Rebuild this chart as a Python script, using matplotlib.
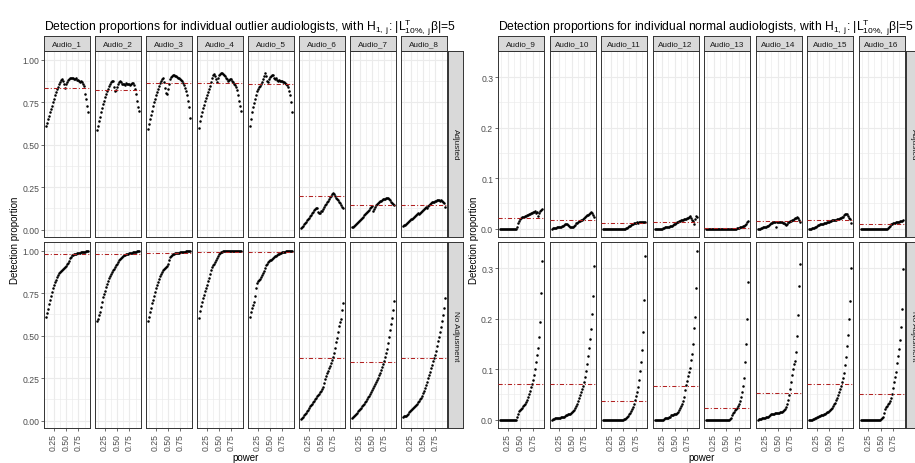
# %%
import matplotlib
matplotlib.use("Agg")
import matplotlib.pyplot as plt
from matplotlib.ticker import FixedLocator

plt.rcParams['font.family'] = ['Liberation Sans', 'DejaVu Sans']
plt.rcParams['mathtext.fontset'] = 'custom'
plt.rcParams['mathtext.rm'] = 'Liberation Sans'
plt.rcParams['mathtext.it'] = 'Liberation Sans:italic'
plt.rcParams['mathtext.bf'] = 'Liberation Sans:bold'

# power grid shared by every facet
power = [0.10, 0.12, 0.14, 0.16, 0.18, 0.20, 0.22, 0.24, 0.26, 0.28,
         0.30, 0.32, 0.34, 0.36, 0.38, 0.40, 0.42, 0.44, 0.46, 0.48,
         0.50, 0.52, 0.54, 0.56, 0.58, 0.60, 0.62, 0.64, 0.66, 0.68,
         0.70, 0.72, 0.74, 0.76, 0.78, 0.80, 0.82, 0.84, 0.86, 0.88,
         0.90, 0.92, 0.94]

outlier_names = ['Audio_1', 'Audio_2', 'Audio_3', 'Audio_4',
                 'Audio_5', 'Audio_6', 'Audio_7', 'Audio_8']
normal_names = ['Audio_9', 'Audio_10', 'Audio_11', 'Audio_12',
                'Audio_13', 'Audio_14', 'Audio_15', 'Audio_16']
row_names = ['Adjusted', 'No Adjusment']

# ---- outlier audiologists ----
a1_adj = [.610, .630, .650, .670, .690, .710, .730, .750, .770, .790,
          .810, .826, .842, .858, .870, .880, .885, .878, .860, .835,
          .855, .868, .880, .885, .890, .892, .895, .890, .885, .888,
          .890, .884, .880, .875, .870, .875, .868, .860, .845, .800,
          .770, .730, .690]
a1_no = [.608, .635, .660, .685, .710, .735, .760, .780, .800, .815,
         .830, .845, .858, .868, .875, .880, .886, .893, .899, .904,
         .912, .920, .930, .942, .955, .965, .973, .977, .980, .982,
         .983, .985, .986, .988, .989, .991, .993, .994, .995, .996,
         .997, .999, 1.000]
a2_adj = [.585, .610, .640, .665, .690, .715, .740, .760, .780, .800,
          .815, .830, .845, .858, .868, .875, .878, .840, .815, .825,
          .840, .855, .868, .876, .870, .860, .855, .860, .852, .862,
          .855, .860, .858, .852, .860, .865, .862, .850, .830, .800,
          .760, .720, .700]
a2_no = [.585, .600, .620, .640, .670, .700, .725, .748, .765, .785,
         .805, .822, .838, .852, .865, .876, .886, .895, .905, .915,
         .925, .935, .945, .953, .960, .966, .971, .975, .978, .980,
         .982, .984, .986, .988, .989, .990, .992, .993, .994, .995,
         .997, .999, 1.000]
a3_adj = [.590, .620, .650, .675, .700, .725, .750, .770, .790, .810,
          .830, .848, .862, .875, .885, .893, .870, .835, .805, .800,
          .830, .860, .885, .898, .905, .908, .910, .905, .902, .898,
          .895, .890, .888, .882, .875, .865, .850, .835, .815, .790,
          .760, .720, .660]
a3_no = [.585, .610, .640, .665, .690, .712, .735, .758, .780, .800,
         .818, .835, .850, .864, .876, .886, .893, .898, .902, .908,
         .925, .948, .962, .970, .976, .980, .983, .985, .987, .988,
         .989, .990, .991, .992, .993, .994, .995, .996, .997, .998,
         .999, .999, 1.000]
a4_adj = [.600, .640, .670, .695, .715, .735, .755, .775, .795, .812,
          .828, .845, .870, .895, .912, .915, .905, .885, .868, .895,
          .908, .915, .920, .922, .915, .910, .905, .895, .885, .878,
          .882, .886, .885, .875, .868, .860, .850, .838, .820, .795,
          .760, .730, .700]
a4_no = [.605, .645, .675, .700, .720, .742, .762, .782, .800, .820,
         .840, .862, .885, .905, .915, .925, .933, .945, .958, .970,
         .980, .988, .993, .996, .998, .999, 1.000, 1.000, 1.000, 1.000,
         1.000, 1.000, 1.000, 1.000, 1.000, 1.000, 1.000, 1.000, 1.000, 1.000,
         1.000, 1.000, 1.000]
a5_adj = [.610, .650, .690, .722, .748, .768, .795, .818, .828, .838,
          .846, .858, .872, .886, .905, .922, .905, .875, .868, .885,
          .896, .905, .912, .910, .895, .888, .890, .882, .878, .880,
          .876, .878, .876, .872, .870, .866, .860, .850, .840, .815,
          .795, .750, .690]
a5_no = [.610, .640, .662, .678, .700, .735, .780, .812, .820, .828,
         .835, .846, .858, .870, .882, .900, .915, .925, .932, .938,
         .943, .948, .954, .960, .964, .968, .972, .975, .979, .984,
         .988, .990, .992, .994, .995, .996, .997, .998, .999, 1.000,
         1.000, 1.000, 1.000]
a6_adj = [.008, .015, .022, .030, .038, .046, .054, .062, .070, .078,
          .086, .095, .104, .113, .120, .126, .128, .105, .098, .100,
          .108, .112, .122, .132, .142, .150, .160, .170, .180, .190,
          .200, .208, .215, .210, .195, .188, .180, .172, .165, .155,
          .145, .135, .125]
a6_no = [.008, .015, .022, .030, .038, .047, .056, .065, .074, .083,
         .092, .100, .108, .117, .126, .134, .142, .150, .158, .166,
         .175, .185, .200, .220, .245, .262, .278, .292, .308, .322,
         .338, .355, .375, .400, .430, .460, .488, .520, .555, .578,
         .600, .650, .695]
a7_adj = [.012, .016, .020, .025, .030, .036, .042, .048, .055, .062,
          .068, .075, .083, .090, .098, .105, .112, .118, .125, .132,
          .138, .112, .120, .135, .145, .152, .158, .162, .166, .170,
          .174, .178, .180, .182, .184, .186, .184, .178, .172, .165,
          .158, .150, .143]
a7_no = [.016, .022, .028, .034, .040, .047, .054, .061, .068, .076,
         .084, .092, .100, .108, .117, .126, .136, .146, .157, .168,
         .180, .192, .204, .216, .228, .240, .253, .268, .283, .298,
         .315, .333, .352, .372, .395, .420, .455, .495, .535, .570,
         .605, .650, .705]
a8_adj = [.022, .024, .026, .030, .036, .042, .048, .054, .060, .064,
          .068, .074, .080, .086, .092, .098, .094, .100, .106, .112,
          .116, .120, .126, .130, .128, .136, .144, .150, .156, .160,
          .162, .164, .166, .170, .172, .174, .172, .170, .172, .168,
          .164, .155, .130]
a8_no = [.022, .024, .026, .028, .032, .040, .048, .055, .060, .066,
         .072, .079, .086, .093, .100, .108, .116, .124, .134, .146,
         .160, .175, .192, .210, .228, .248, .268, .288, .308, .328,
         .348, .368, .388, .410, .438, .466, .494, .522, .550, .585,
         .620, .665, .720]

# ---- normal audiologists ----
a9_adj = [0, 0, 0, 0, 0, 0, 0, 0, 0, 0,
          0, 0, 0, 0, 0, 0, 0, .004, .010, .014,
          .018, .021, .022, .022, .023, .024, .025, .026, .027, .028,
          .029, .031, .030, .033, .032, .034, .030, .033, .024, .031,
          .034, .036, .038]
a9_no = [0, 0, 0, 0, 0, 0, 0, 0, 0, 0,
         0, 0, 0, 0, 0, 0, 0, .005, .011, .016,
         .019, .021, .023, .026, .028, .031, .035, .039, .045, .050,
         .057, .064, .070, .078, .088, .100, .115, .128, .142, .163,
         .194, .250, .314]
a10_adj = [.000, .001, .001, .002, .002, .003, .003, .003, .004, .004,
           .005, .006, .007, .008, .008, .008, .007, .006, .004, .003,
           .003, .004, .005, .007, .010, .011, .012, .014, .015, .016,
           .017, .019, .021, .023, .024, .026, .027, .029, .031, .033,
           .030, .026, .022]
a10_no = [.000, .001, .002, .003, .003, .004, .004, .004, .004, .005,
          .005, .006, .006, .007, .008, .009, .010, .010, .011, .012,
          .014, .016, .019, .022, .026, .030, .036, .042, .048, .054,
          .060, .067, .075, .085, .097, .110, .125, .142, .160, .180,
          .210, .245, .305]
a11_adj = [0, 0, 0, 0, 0, 0, 0, 0, 0, 0,
           0, 0, 0, 0, 0, 0, 0, 0, 0, 0,
           0, 0, 0, .001, .002, .003, .005, .006, .007, .008,
           .009, .010, .010, .011, .012, .011, .012, .013, .012, .013,
           .012, .013, .012]
a11_no = [0, 0, 0, 0, 0, 0, 0, 0, 0, 0,
          0, 0, 0, 0, 0, 0, 0, 0, 0, 0,
          0, .001, .002, .003, .005, .007, .010, .013, .016, .020,
          .025, .031, .038, .046, .055, .065, .078, .097, .114, .137,
          .174, .237, .324]
a12_adj = [0, 0, 0, 0, 0, 0, 0, 0, .001, .002,
           .003, .003, .003, .003, .004, .005, .005, .006, .007, .008,
           .009, .010, .012, .013, .014, .015, .016, .016, .017, .018,
           .018, .019, .020, .021, .022, .024, .020, .017, .015, .009,
           .018, .024, .022]
a12_no = [0, 0, 0, 0, 0, 0, 0, 0, 0, .002,
          .003, .003, .004, .004, .005, .006, .008, .009, .009, .010,
          .010, .010, .012, .015, .019, .023, .026, .030, .036, .045,
          .058, .068, .077, .086, .095, .102, .118, .130, .150, .182,
          .204, .260, .335]
a13_adj = [0, 0, 0, 0, 0, 0, 0, 0, 0, 0,
           0, 0, 0, 0, 0, 0, 0, 0, 0, 0,
           0, 0, 0, 0, 0, 0, 0, 0, 0, 0,
           0, .001, .001, .002, .003, .003, .004, .005, .005, .007,
           .009, .012, .014]
a13_no = [0, 0, 0, 0, 0, 0, 0, 0, 0, 0,
          0, 0, 0, 0, 0, 0, 0, 0, 0, 0,
          0, 0, 0, 0, .001, .004, .008, .012, .015, .018,
          .020, .023, .026, .030, .036, .044, .054, .066, .082, .114,
          .150, .200, .272]
a14_adj = [.000, .000, .000, .001, .002, .003, .003, .003, .004, .005,
           .006, .007, .008, .010, .011, .012, .013, .012, .003, .012,
           .013, .013, .013, .013, .012, .011, .010, .009, .007, .009,
           .012, .013, .014, .015, .016, .017, .019, .020, .021, .023,
           .021, .017, .012]
a14_no = [.000, .001, .001, .002, .003, .004, .004, .004, .005, .005,
          .005, .007, .009, .010, .010, .011, .011, .012, .012, .012,
          .013, .013, .014, .014, .015, .016, .018, .021, .025, .031,
          .039, .048, .060, .075, .088, .100, .110, .117, .134, .165,
          .207, .265, .308]
a15_adj = [.000, .000, .000, .001, .001, .002, .003, .004, .006, .007,
           .007, .008, .008, .009, .009, .010, .010, .011, .012, .012,
           .013, .014, .015, .016, .016, .016, .017, .017, .018, .019,
           .019, .020, .021, .022, .023, .026, .028, .029, .029, .024,
           .021, .019, .011]
a15_no = [.000, .000, .000, .000, .001, .002, .003, .004, .006, .006,
          .007, .007, .008, .008, .009, .010, .011, .012, .014, .015,
          .016, .018, .020, .023, .026, .030, .033, .038, .043, .048,
          .054, .060, .066, .074, .082, .092, .108, .124, .145, .168,
          .200, .235, .300]
a16_adj = [0, 0, 0, 0, 0, 0, 0, 0, 0, 0,
           0, 0, 0, 0, 0, 0, 0, 0, 0, 0,
           0, 0, 0, 0, 0, 0, 0, .002, .004, .006,
           .008, .009, .010, .011, .011, .012, .012, .013, .013, .014,
           .014, .015, .016]
a16_no = [0, 0, 0, 0, 0, 0, 0, 0, 0, 0,
          0, 0, 0, 0, 0, 0, 0, 0, 0, 0,
          .001, .003, .006, .012, .020, .024, .027, .030, .033, .037,
          .042, .050, .062, .075, .085, .095, .112, .125, .140, .158,
          .183, .220, .298]

# reference (dash-dot) levels per facet
outlier_adj_ref = [0.835, 0.825, 0.866, 0.865, 0.855, 0.196, 0.143, 0.147]
outlier_no_ref = [0.984, 0.979, 0.990, 0.995, 0.992, 0.371, 0.342, 0.367]
normal_adj_ref = [0.020, 0.017, 0.011, 0.013, 0.002, 0.014, 0.017, 0.008]
normal_no_ref = [0.070, 0.070, 0.037, 0.067, 0.023, 0.052, 0.070, 0.050]

outlier_adj = [a1_adj, a2_adj, a3_adj, a4_adj, a5_adj, a6_adj, a7_adj, a8_adj]
outlier_no = [a1_no, a2_no, a3_no, a4_no, a5_no, a6_no, a7_no, a8_no]
normal_adj = [a9_adj, a10_adj, a11_adj, a12_adj, a13_adj, a14_adj, a15_adj, a16_adj]
normal_no = [a9_no, a10_no, a11_no, a12_no, a13_no, a14_no, a15_no, a16_no]

# ---- layout (pixels, measured from top-left) ----
FIG_W, FIG_H = 915, 464
ROW_TOP = [52, 243]
ROW_H = 186
STRIP_TOP, STRIP_H = 37, 15
BORDER = '#333333'
GRID = '#EBEBEB'

fig = plt.figure(figsize=(FIG_W / 100, FIG_H / 100), dpi=100)


def add_box(x, y, w, h):
    # pixel box -> figure axes
    return fig.add_axes([x / FIG_W, 1 - (y + h) / FIG_H, w / FIG_W, h / FIG_H])


def style_strip(ax):
    ax.set_facecolor('#D9D9D9')
    ax.set_xticks([])
    ax.set_yticks([])
    for s in ax.spines.values():
        s.set_color(BORDER)
        s.set_linewidth(0.7)


def draw_block(left, step, width, names, adj, noadj, adj_ref, noadj_ref,
               ylim, yticks, yminor, ylabels, title, strip_left, strip_w, ylab_x):
    rows = [(adj, adj_ref), (noadj, noadj_ref)]
    for r, (series, refs) in enumerate(rows):
        for k in range(len(names)):
            ax = add_box(left + k * step, ROW_TOP[r], width, ROW_H)
            ax.scatter(power, series[k], s=3.3, color='black', linewidths=0, zorder=3)
            ax.axhline(refs[k], color='#B22222', lw=0.75, ls=(0, (4, 2, 1, 2)), zorder=4)
            ax.set_xlim(0.058, 0.982)
            ax.set_ylim(*ylim)
            ax.set_xticks([0.25, 0.50, 0.75])
            ax.xaxis.set_minor_locator(FixedLocator([0.125, 0.375, 0.625, 0.875]))
            ax.set_yticks(yticks)
            ax.yaxis.set_minor_locator(FixedLocator(yminor))
            ax.grid(which='major', color=GRID, lw=0.8)
            ax.grid(which='minor', color=GRID, lw=0.45)
            ax.set_axisbelow(True)
            for s in ax.spines.values():
                s.set_color(BORDER)
                s.set_linewidth(0.7)
            ax.tick_params(which='minor', length=0)
            ax.tick_params(which='major', length=2.2, width=0.5, color=BORDER,
                           labelsize=6.2, labelcolor='#4D4D4D', pad=1.3)
            if k == 0:
                ax.set_yticklabels(ylabels)
            else:
                ax.tick_params(axis='y', left=False, labelleft=False)
            if r == 1:
                ax.set_xticklabels(['0.25', '0.50', '0.75'], rotation=90)
            else:
                ax.tick_params(axis='x', bottom=False, labelbottom=False)

            # column strip on top
            if r == 0:
                st = add_box(left + k * step, STRIP_TOP, width, STRIP_H)
                style_strip(st)
                st.text(0.5, 0.5, names[k], ha='center', va='center',
                        fontsize=5.9, color='#1A1A1A', transform=st.transAxes)

        # row strip on the right
        st = add_box(strip_left, ROW_TOP[r], strip_w, ROW_H)
        style_strip(st)
        st.text(0.5, 0.5, row_names[r], ha='center', va='center', rotation=270,
                fontsize=5.9, color='#1A1A1A', transform=st.transAxes)

    right_edge = left + (len(names) - 1) * step + width
    fig.text(left / FIG_W, 1 - 31 / FIG_H, title, ha='left', va='baseline', fontsize=8.7)
    fig.text(ylab_x / FIG_W, 1 - 240.5 / FIG_H, 'Detection proportion', rotation=90,
             ha='center', va='center', fontsize=7)
    fig.text((left + right_edge) / 2 / FIG_W, 1 - 458 / FIG_H, 'power',
             ha='center', va='center', fontsize=7)


title_out = (r"Detection proportions for individual outlier audiologists, with H$_{\mathrm{1,\ j}}$: "
             r"|L$^{\mathrm{T}}_{\mathrm{10\%,\ j}}$β|=5")
title_norm = (r"Detection proportions for individual normal audiologists, with H$_{\mathrm{1,\ j}}$: "
              r"|L$^{\mathrm{T}}_{\mathrm{10\%,\ j}}$β|=5")

draw_block(44, 51, 46, outlier_names, outlier_adj, outlier_no,
           outlier_adj_ref, outlier_no_ref,
           (-0.044, 1.052), [0.0, 0.25, 0.5, 0.75, 1.0], [0.125, 0.375, 0.625, 0.875],
           ['0.00', '0.25', '0.50', '0.75', '1.00'], title_out, 447.5, 15, 15)

draw_block(498, 51.5, 46.3, normal_names, normal_adj, normal_no,
           normal_adj_ref, normal_no_ref,
           (-0.0168, 0.352), [0.0, 0.1, 0.2, 0.3], [0.05, 0.15, 0.25],
           ['0.0', '0.1', '0.2', '0.3'], title_norm, 905.5, 15, 474)

fig.savefig('out.png', dpi=100)
